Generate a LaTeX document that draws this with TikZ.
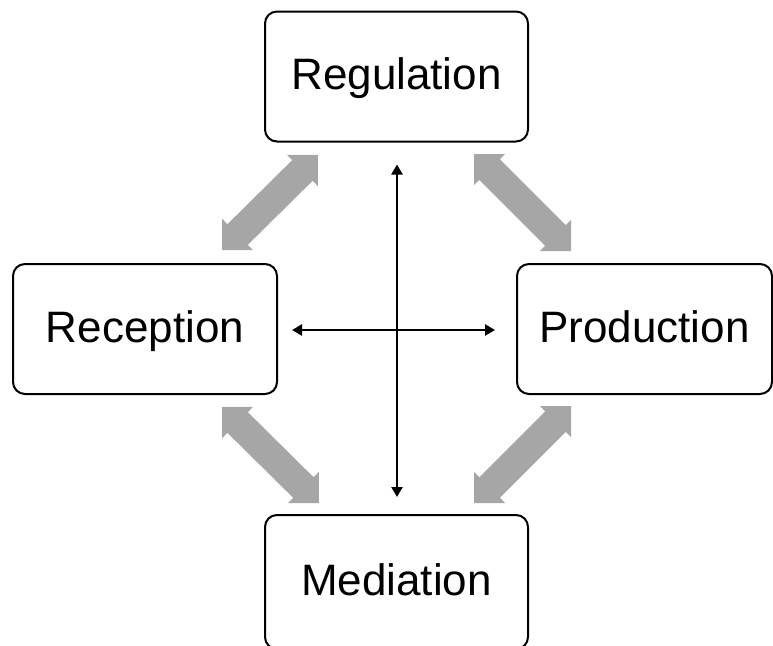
\documentclass[tikz,border=0pt]{standalone}
\usepackage{fontspec}
\setmainfont{Liberation Sans}
\usetikzlibrary{calc,arrows.meta}
\definecolor{arrowgray}{RGB}{166,166,166}
\newcommand\grayarrow[2]{%
  \coordinate (ga1) at ($(#1)!22pt!(#2)$);
  \coordinate (ga2) at ($(#2)!22pt!(#1)$);
  \fill[arrowgray] (#1) -- ($(ga1)!22pt!90:(#2)$) -- ($(ga1)!14.5pt!90:(#2)$)
    -- ($(ga2)!14.5pt!-90:(#1)$) -- ($(ga2)!22pt!-90:(#1)$) -- (#2)
    -- ($(ga2)!22pt!90:(#1)$) -- ($(ga2)!14.5pt!90:(#1)$)
    -- ($(ga1)!14.5pt!-90:(#2)$) -- ($(ga1)!22pt!-90:(#2)$) -- cycle;}
\tikzset{
  box/.style={draw=black, line width=2pt, rounded corners=12pt, fill=white,
    minimum width=263pt, minimum height=130pt, inner sep=0pt,
    text height=34pt, text depth=8pt,
    font=\fontsize{44}{50}\selectfont},
  thinarrow/.style={draw=black, line width=2.3pt,
    {Triangle[length=10pt,width=11pt]}-{Triangle[length=10pt,width=11pt]}}
}
\begin{document}
\begin{tikzpicture}[x=1pt,y=-1pt]
\useasboundingbox (0,0) rectangle (773,645);
\node[box] (reg) at (396.5,76.5) {Regulation};
\node[box, minimum width=264pt] (rec) at (145,329) {Reception};
\node[box, minimum width=255pt] (pro) at (644.5,329) {Production};
\node[box, minimum height=134pt] (med) at (396.5,582) {Mediation};
% gray block arrows
\coordinate (ulA) at (222,250); \coordinate (ulB) at (318,155);
\coordinate (urA) at (474,154); \coordinate (urB) at (571,251);
\coordinate (llA) at (222,407); \coordinate (llB) at (319,503);
\coordinate (lrA) at (571,406); \coordinate (lrB) at (474,503);
\grayarrow{ulA}{ulB}
\grayarrow{urA}{urB}
\grayarrow{llA}{llB}
\grayarrow{lrA}{lrB}
% thin black arrows
\coordinate (hL) at ($(rec.east)+(14,1)$);
\coordinate (hR) at ($(pro.west)+(-21,1)$);
\coordinate (vT) at ($(reg.south)+(0.5,22)$);
\coordinate (vB) at ($(med.north)+(0.5,-17)$);
\draw[thinarrow] (hL) -- (hR);
\draw[thinarrow] (vT) -- (vB);
\end{tikzpicture}
\end{document}
